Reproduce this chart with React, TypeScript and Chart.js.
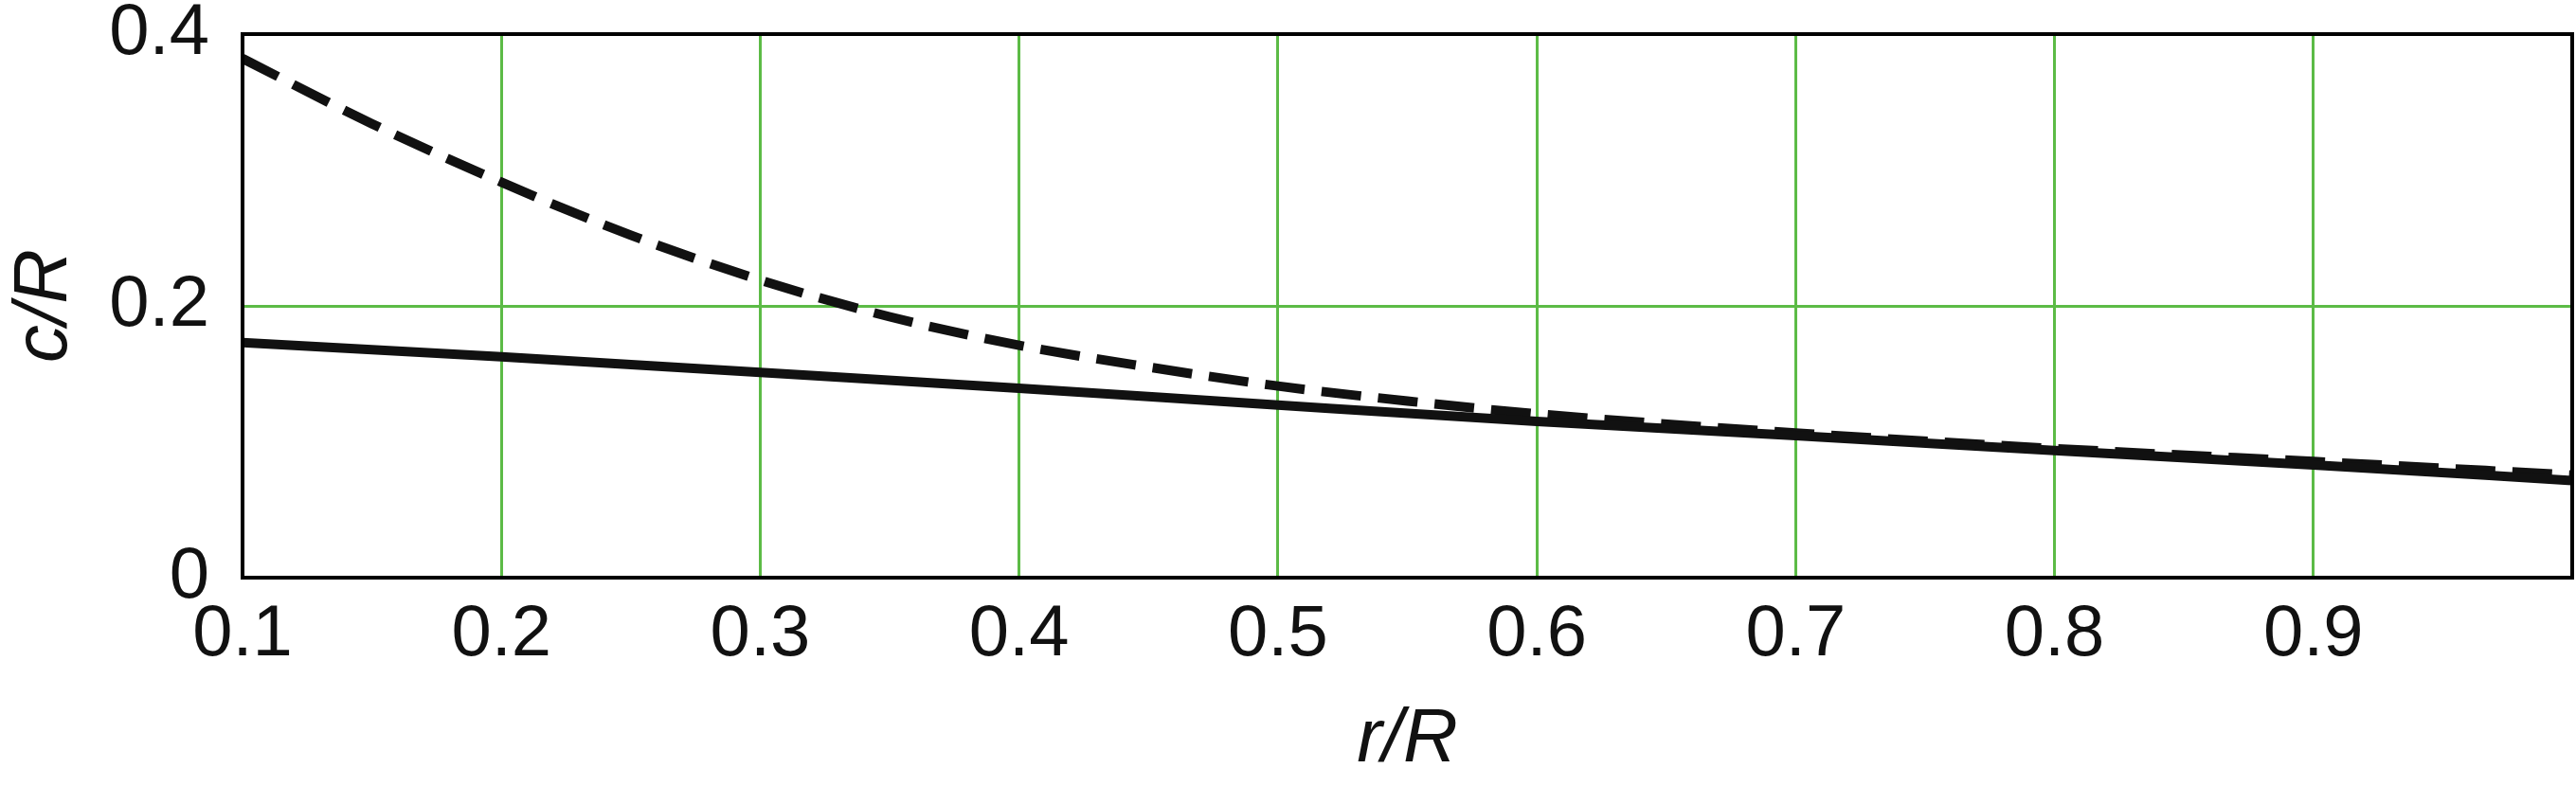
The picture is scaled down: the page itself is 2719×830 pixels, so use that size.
import { Chart, registerables } from 'chart.js';
import { useEffect, useRef } from 'react';

Chart.register(...registerables);

// r/R positions
const rSolid = [0.1, 0.2, 0.3, 0.4, 0.5, 0.6, 0.7, 0.8, 0.9, 1.0];
const cSolid = [0.173, 0.1626, 0.151, 0.1394, 0.127, 0.115, 0.1045, 0.0935, 0.083, 0.0715];

const rDashed = [0.1, 0.15, 0.2, 0.25, 0.3, 0.35, 0.4, 0.45, 0.5, 0.55, 0.6, 0.7, 0.8, 0.9, 1.0];
const cDashed = [0.382, 0.334, 0.291, 0.252, 0.219, 0.192, 0.171, 0.155, 0.141, 0.130, 0.1205, 0.1065, 0.095, 0.0855, 0.0755];

const xTicks = [0.1, 0.2, 0.3, 0.4, 0.5, 0.6, 0.7, 0.8, 0.9];
const yTicks = [0, 0.2, 0.4];

const GREEN = '#5cbb46';
const FONT = "'Liberation Sans', Arial, Helvetica, sans-serif";

const frame = {
  id: 'frame',
  afterDraw(chart: Chart) {
    const { ctx, chartArea: a } = chart;
    ctx.save();
    ctx.strokeStyle = '#000';
    ctx.lineWidth = 4;
    ctx.strokeRect(a.left, a.top, a.right - a.left, a.bottom - a.top);
    ctx.restore();
  },
};

const App: React.FC = () => {
  const ref = useRef<HTMLCanvasElement>(null);
  const chartInstance = useRef<Chart | null>(null);

  useEffect(() => {
    if (!ref.current) return;
    const ctx = ref.current.getContext('2d');
    if (!ctx) return;
    if (chartInstance.current) chartInstance.current.destroy();

    chartInstance.current = new Chart(ctx, {
      type: 'line',
      data: {
        datasets: [
          {
            label: 'solid',
            data: rSolid.map((x, i) => ({ x, y: cSolid[i] })),
            borderColor: '#111',
            borderWidth: 10,
            pointRadius: 0,
            cubicInterpolationMode: 'monotone',
            fill: false,
          },
          {
            label: 'dashed',
            data: rDashed.map((x, i) => ({ x, y: cDashed[i] })),
            borderColor: '#111',
            borderWidth: 10,
            borderDash: [42, 18],
            pointRadius: 0,
            cubicInterpolationMode: 'monotone',
            fill: false,
          },
        ],
      },
      options: {
        animation: false,
        responsive: true,
        maintainAspectRatio: false,
        layout: { padding: { top: 36, right: 4, left: 0, bottom: 0 } },
        plugins: { legend: { display: false }, tooltip: { enabled: false } },
        scales: {
          x: {
            type: 'linear',
            min: 0.1,
            max: 1.0,
            afterFit: (s: any) => {
              s.height = 220;
              s.paddingLeft = 0;
              s.paddingRight = 0;
            },
            afterBuildTicks: (s: any) => { s.ticks = [...xTicks, 1.0].map((v) => ({ value: v })); },
            ticks: {
              color: '#111',
              padding: 15,
              maxRotation: 0,
              font: { family: FONT, size: 76 },
              callback: (v: any) => (xTicks.some((t) => Math.abs(t - v) < 1e-6) ? Number(v).toFixed(1) : ''),
            },
            grid: {
              color: (c: any) => (c.tick && (c.tick.value < 0.15 || c.tick.value > 0.95) ? 'transparent' : GREEN),
              lineWidth: 3,
              drawTicks: false,
            },
            border: { display: false },
            title: {
              display: true,
              text: 'r/R',
              color: '#111',
              padding: 0,
              font: { family: FONT, size: 80, style: 'italic', lineHeight: 1.2 },
            },
          },
          y: {
            type: 'linear',
            min: 0,
            max: 0.4,
            afterFit: (s: any) => {
              s.width = 256;
              s.paddingTop = 0;
              s.paddingBottom = 0;
            },
            afterBuildTicks: (s: any) => { s.ticks = yTicks.map((v) => ({ value: v })); },
            ticks: {
              color: '#111',
              padding: 35,
              font: { family: FONT, size: 76 },
              callback: (v: any) => (Number(v) === 0 ? '0' : Number(v).toFixed(1)),
            },
            grid: {
              color: (c: any) => (c.tick && c.tick.value > 0.05 && c.tick.value < 0.35 ? GREEN : 'transparent'),
              lineWidth: 3,
              drawTicks: false,
            },
            border: { display: false },
            title: {
              display: true,
              text: 'c/R',
              color: '#111',
              padding: 0,
              font: { family: FONT, size: 80, style: 'italic', lineHeight: 1.2 },
            },
          },
        },
      },
      plugins: [frame],
    });

    return () => {
      if (chartInstance.current) {
        chartInstance.current.destroy();
        chartInstance.current = null;
      }
    };
  }, []);

  return (
    <div style={{ position: 'absolute', left: 0, top: 0, width: 2719, height: 830, background: '#fff' }}>
      <canvas ref={ref}></canvas>
    </div>
  );
};

export default App;
